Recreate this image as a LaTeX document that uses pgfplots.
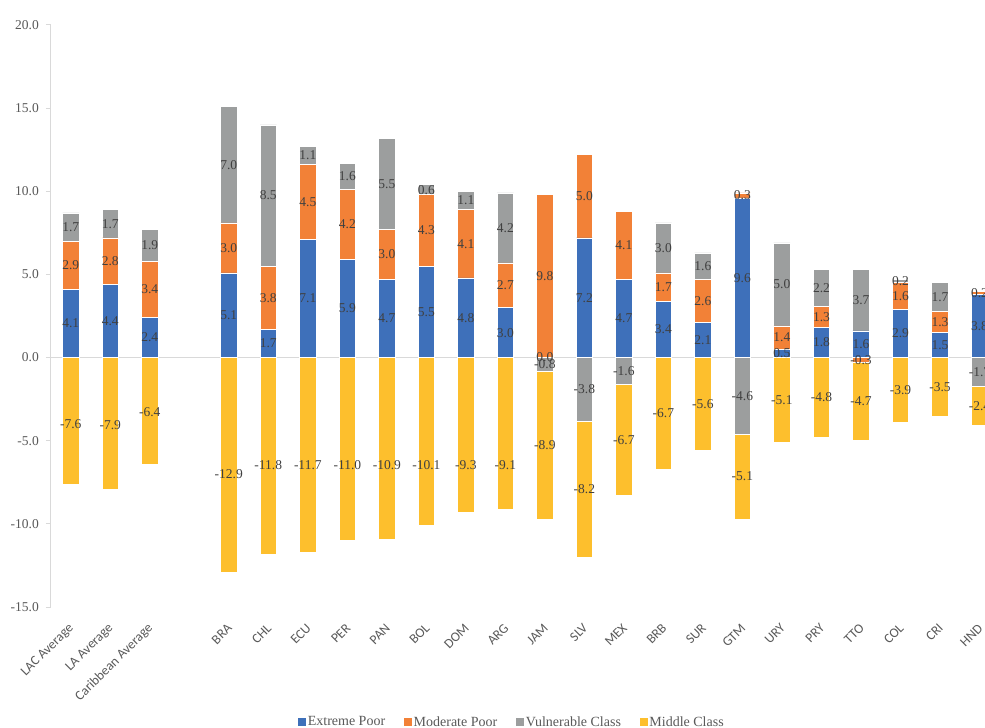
\documentclass[border=0pt]{standalone}
\usepackage{pgfplots}
\pgfplotsset{compat=1.18}
\usepackage{pgfplotstable}
\usepackage{fontspec}
\setmainfont{Liberation Serif}
\newfontfamily\calib{Carlito}

\definecolor{cEP}{HTML}{3E70BA}
\definecolor{cMP}{HTML}{F28137}
\definecolor{cVC}{HTML}{9C9E9E}
\definecolor{cMC}{HTML}{FDBF2D}
\definecolor{lbl}{HTML}{404040}
\definecolor{tck}{HTML}{595959}
\definecolor{axl}{HTML}{D9D9D9}

% x = slot, ep/mp/vc/mc = segments, mcy = where the middle class label sits
\pgfplotstableread{
x  ep   mp   vc    mc     mcy
0  4.1  2.9  1.7   -7.6   -4.0
1  4.4  2.8  1.7   -7.9   -4.05
2  2.4  3.4  1.9   -6.4   -3.3
4  5.1  3.0  7.0   -12.9  -7.0
5  1.7  3.8  8.5   -11.8  -6.45
6  7.1  4.5  1.1   -11.7  -6.45
7  5.9  4.2  1.6   -11.0  -6.45
8  4.7  3.0  5.5   -10.9  -6.45
9  5.5  4.3  0.6   -10.1  -6.45
10 4.8  4.1  1.1   -9.3   -6.45
11 3.0  2.7  4.2   -9.1   -6.45
12 0.0  9.8  -0.8  -8.9   -5.25
13 7.2  5.0  -3.8  -8.2   -7.9
14 4.7  4.1  -1.6  -6.7   -4.95
15 3.4  1.7  3.0   -6.7   -3.35
16 2.1  2.6  1.6   -5.6   -2.8
17 9.6  0.3  -4.6  -5.1   -7.15
18 0.5  1.4  5.0   -5.1   -2.55
19 1.8  1.3  2.2   -4.8   -2.4
20 1.6  -0.3 3.7   -4.7   -2.65
21 2.9  1.6  0.2   -3.9   -1.95
22 1.5  1.3  1.7   -3.5   -1.75
23 3.8  0.2  -1.7  -2.4   -2.9
}\data

\pgfplotsset{
  base/.style={
    width=934pt, height=582pt, scale only axis,
    xmin=-0.5, xmax=23.14, ymin=-15, ymax=20,
  },
  seg/.style={fill=#1, draw=white, line width=0.5pt,
    legend image code/.code={\fill[#1] (0pt,-3.5pt) rectangle (7pt,3.5pt);}},
  lab/.style={draw=none, mark=none, nodes near coords, point meta=explicit,
    nodes near coords={\pgfmathprintnumber[fixed,fixed zerofill,precision=1,assume math mode=true]{\pgfplotspointmeta}},
    every node near coord/.style={anchor=center, inner sep=0pt, text=lbl,
      font=\fontsize{13.5}{15}\selectfont}},
}

\begin{document}
\begin{tikzpicture}
% positive parts + axes + legend
\begin{axis}[base, name=main,
    ybar stacked, bar width=16.5pt,
    axis y line*=left, axis x line*=bottom,
    x axis line style={draw=none},
    y axis line style={axl, line width=1pt},
    ytick={-15,-10,...,20},
    tick align=outside, major tick length=5pt,
    ytick style={axl, line width=1pt},
    xtick style={draw=none},
    yticklabel style={font=\fontsize{13.5}{15}\selectfont, text=tck, inner sep=0pt, xshift=-7pt},
    /pgf/number format/.cd, fixed, fixed zerofill, precision=1, assume math mode=true, /pgfplots/.cd,
    xtick={0,1,2,4,5,6,7,8,9,10,11,12,13,14,15,16,17,18,19,20,21,22,23},
    xticklabels={LAC Average,LA Average,Caribbean Average,BRA,CHL,ECU,PER,PAN,BOL,DOM,ARG,JAM,SLV,MEX,BRB,SUR,GTM,URY,PRY,TTO,COL,CRI,HND},
    xticklabel style={font=\calib\fontsize{13.5}{15}\selectfont, text=tck, inner sep=0pt,
      xshift=1pt, yshift=-14pt, rotate=45, anchor=east},
    legend columns=4,
    legend style={draw=none, at={(0.4936,-0.1976)}, anchor=center,
      font=\fontsize{14}{16}\selectfont, text=tck,
      /tikz/every even column/.append style={column sep=17pt}},
    legend cell align=left,
]
\draw[axl, line width=1.3pt] (axis cs:-0.5,0) -- (axis cs:23.14,0);
\addplot[seg=cEP] table[x=x, y expr={max(\thisrow{ep},0)}] {\data};
\addlegendentry{Extreme Poor}
\addplot[seg=cMP] table[x=x, y expr={max(\thisrow{mp},0)}] {\data};
\addlegendentry{Moderate Poor}
\addplot[seg=cVC] table[x=x, y expr={max(\thisrow{vc},0)}] {\data};
\addlegendentry{Vulnerable Class}
\addplot[seg=cMC] table[x=x, y expr={max(\thisrow{mc},0)}] {\data};
\addlegendentry{Middle Class}
\end{axis}

% negative parts
\begin{axis}[base, hide axis, ybar stacked, bar width=16.5pt]
\addplot[seg=cEP] table[x=x, y expr={min(\thisrow{ep},0)}] {\data};
\addplot[seg=cMP] table[x=x, y expr={min(\thisrow{mp},0)}] {\data};
\addplot[seg=cVC] table[x=x, y expr={min(\thisrow{vc},0)}] {\data};
\addplot[seg=cMC] table[x=x, y expr={min(\thisrow{mc},0)}] {\data};
\end{axis}

% data labels
\begin{axis}[base, hide axis, clip=false]
\addplot[lab] table[x=x, y expr={\thisrow{ep}/2}, meta=ep] {\data};
\addplot[lab] table[x=x, y expr={ifthenelse(\thisrow{mp}>=0, max(\thisrow{ep},0)+\thisrow{mp}/2, min(\thisrow{ep},0)+\thisrow{mp}/2)}, meta=mp] {\data};
\addplot[lab] table[x=x, y expr={ifthenelse(\thisrow{vc}>=0, max(\thisrow{ep},0)+max(\thisrow{mp},0)+\thisrow{vc}/2, min(\thisrow{ep},0)+min(\thisrow{mp},0)+\thisrow{vc}/2)}, meta=vc] {\data};
\addplot[lab] table[x=x, y=mcy, meta=mc] {\data};
\end{axis}

\pgfresetboundingbox
\path[use as bounding box] ([shift={(-51pt,-121pt)}]main.south west) rectangle ([shift={(0pt,25pt)}]main.north east);
\end{tikzpicture}
\end{document}
